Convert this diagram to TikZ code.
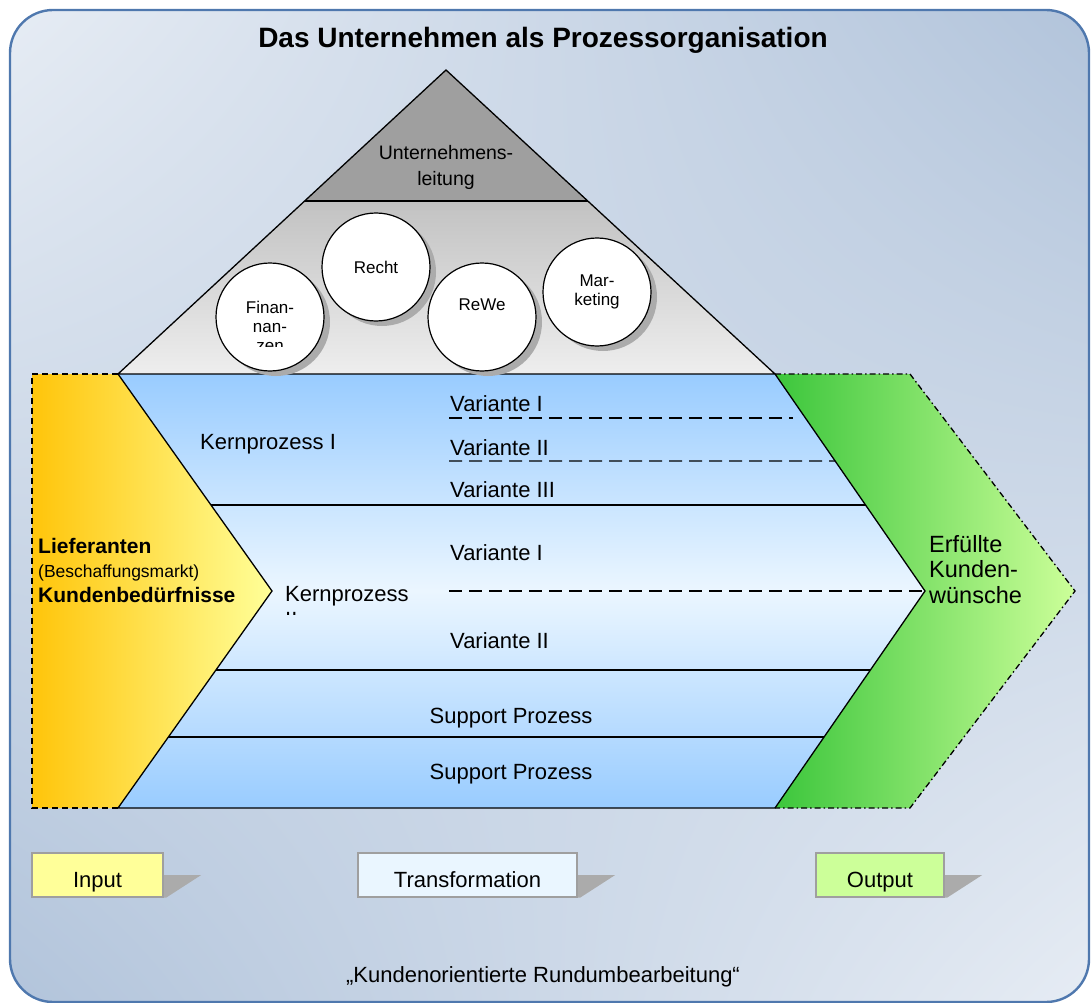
\documentclass[tikz,border=0pt]{standalone}
\usepackage{fontspec}
\setmainfont{Liberation Sans}
\usetikzlibrary{calc, positioning, shadings}

\definecolor{rahmen}{HTML}{4F78AE}
\definecolor{hgHell}{HTML}{E6ECF4}
\definecolor{hgDunkel}{HTML}{B2C4DB}
\definecolor{pyrDunkel}{HTML}{9F9F9F}
\definecolor{pyrGrau}{HTML}{C2C2C2}
\definecolor{pyrHell}{HTML}{EEEEEE}
\definecolor{blauDunkel}{HTML}{99CCFF}
\definecolor{blauHell}{HTML}{EBF6FF}
\definecolor{gelbDunkel}{HTML}{FFC50A}
\definecolor{gelbHell}{HTML}{FFFF99}
\definecolor{gruenDunkel}{HTML}{3CC63C}
\definecolor{gruenHell}{HTML}{CCFF99}
\definecolor{kastenBlau}{HTML}{EAF6FF}
\definecolor{schatten}{HTML}{ABABAB}

\newcommand{\schrift}[2]{\fontsize{#1}{#2}\selectfont}

\begin{document}
\begin{tikzpicture}[x=1pt, y=-1pt,
   every node/.style = {inner sep=0pt},
   txt/.style = {font=\schrift{22}{26}},
   abteilung/.style = {circle, draw, line width=1.2pt, fill=white, minimum size=108pt,
                       align=center, font=\schrift{17}{19}},
   abtschatten/.style = {circle, fill=schatten, minimum size=108pt},
   kasten/.style = {draw=gray!75, line width=1.2pt, minimum height=44pt,
                    text height=24pt, text depth=0pt, font=\schrift{22}{26}},
   trenner/.style = {line width=1.3pt},
   variante/.style = {line width=1.3pt, dash pattern=on 13pt off 7pt}]

   \useasboundingbox (0,0) rectangle (1092,1003);

   % Hintergrund
   \shade[upper left=hgHell, upper right=hgDunkel, lower left=hgDunkel, lower right=hgHell,
          rounded corners=43pt] (10,10) rectangle (1089,1002);
   \draw[rahmen, line width=2.4pt, rounded corners=43pt] (10,10) rectangle (1089,1002);

   \node[font=\bfseries\schrift{28}{32}, anchor=base] (titel) at (543,48)
      {Das Unternehmen als Prozessorganisation};

   % Pyramide
   \coordinate (spitze) at (446,70);
   \coordinate (basisL) at (118,374);
   \coordinate (basisR) at (775,374);
   \coordinate (stufeL) at ($(spitze)!0.431!(basisL)$);
   \coordinate (stufeR) at ($(spitze)!0.431!(basisR)$);

   \fill[pyrDunkel] (spitze) -- (stufeL) -- (stufeR) -- cycle;
   \shade[top color=pyrGrau, bottom color=pyrHell] (stufeL) -- (stufeR) -- (basisR) -- (basisL) -- cycle;

   % Prozesspfeil
   \coordinate (kerbeL) at (272,591);
   \coordinate (kerbeR) at (925,591);
   \coordinate (fussL) at (118,808);
   \coordinate (fussR) at (775,808);
   \coordinate (spitzeR) at (1075,591);

   \shade[top color=blauDunkel, bottom color=blauDunkel, middle color=blauHell]
      (basisL) -- (basisR) -- (kerbeR) -- (fussR) -- (fussL) -- (kerbeL) -- cycle;

   \shade[left color=gelbDunkel, right color=gelbHell]
      (32,374) -- (basisL) -- (kerbeL) -- (fussL) -- (32,808) -- cycle;
   \draw[line width=1.3pt, dash pattern=on 6pt off 4pt] (basisL) -- (32,374) -- (32,808) -- (fussL);

   \shade[left color=gruenDunkel, right color=gruenHell]
      (basisR) -- (910,374) -- (spitzeR) -- (910,808) -- (fussR) -- (kerbeR) -- cycle;
   \draw[line width=1.3pt, dash pattern=on 6pt off 3pt on 1.5pt off 3pt]
      (basisR) -- (910,374) -- (spitzeR) -- (910,808) -- (fussR);

   \draw[line width=1.3pt] (spitze) -- (basisL) -- (basisR) -- cycle;
   \draw[line width=1.3pt] (stufeL) -- (stufeR);
   \draw[line width=1.3pt] (basisL) -- (kerbeL) -- (fussL) -- (fussR) -- (kerbeR) -- (basisR);

   % Baender
   \draw[trenner] ($(basisL)!0.604!(kerbeL)$) -- ($(basisR)!0.604!(kerbeR)$);
   \draw[trenner] ($(kerbeL)!0.364!(fussL)$) -- ($(kerbeR)!0.364!(fussR)$);
   \draw[trenner] ($(kerbeL)!0.673!(fussL)$) -- ($(kerbeR)!0.673!(fussR)$);

   \draw[variante] (449,418) -- (793,418);
   \draw[variante] (449,461) -- ($(basisR)!0.401!(kerbeR)$);
   \draw[variante] (449,591) -- (kerbeR);

   % Abteilungen
   \foreach \px/\py in {270/317, 376/267, 482/317, 597/292}
      \node[abtschatten] at (\px+6,\py+5) {};
   \node[abteilung] (fin) at (270,317) {};
   \node[abteilung] (recht) at (376,267) {Recht};
   \node[abteilung] (rewe) at (482,317) {};
   \node[abteilung] (mark) at (597,292) {Mar-\\keting};
   \node[font=\schrift{17}{19}] (rewetxt) at ($(rewe.center)+(0,-12)$) {ReWe};
   \begin{scope}
      \clip (215,290) rectangle (325,346);
      \node[align=center, font=\schrift{17}{19}, anchor=north] (fintxt) at (270,301) {Finan-\\nan-\\zen};
   \end{scope}

   \node[align=center, font=\schrift{19.5}{26}, anchor=north] (leitung) at (446,145)
      {Unternehmens-\\leitung};

   % Texte im Pfeil
   \node[txt, anchor=base west] (kp1) at (200,449) {Kernprozess I};
   \node[txt, anchor=base west] (v11) at (450,411) {Variante I};
   \node[txt, anchor=base west] (v12) at (450,455) {Variante II};
   \node[txt, anchor=base west] (v13) at (450,497) {Variante III};

   \begin{scope}
      \clip (280,570) rectangle (420,614);
      \node[txt, align=left, anchor=north west] (kp2) at (285,586) {Kernprozess\\II};
   \end{scope}
   \node[txt, anchor=base west] (v21) at (450,560) {Variante I};
   \node[txt, anchor=base west] (v22) at (450,648) {Variante II};

   \node[txt, anchor=base] (sp1) at (511,723) {Support Prozess};
   \node[txt, anchor=base] (sp2) at (511,779) {Support Prozess};

   \node[font=\bfseries\schrift{21}{25}, anchor=base west] (lief) at (38,553) {Lieferanten};
   \node[font=\schrift{17.5}{21}, anchor=base west] (besch) at (38,577) {(Beschaffungsmarkt)};
   \node[font=\bfseries\schrift{21}{25}, anchor=base west] (bedarf) at (38,602) {Kundenbedürfnisse};

   \node[align=left, font=\schrift{23.5}{25.5}, anchor=north west] (erfuellt) at (929,535)
      {Erfüllte\\Kunden-\\wünsche};

   % Legende
   \node[kasten, fill=gelbHell, minimum width=131pt] (input) at (97.5,875) {Input};
   \node[kasten, fill=kastenBlau, minimum width=219pt] (trafo) at (467.5,875) {Transformation};
   \node[kasten, fill=gruenHell, minimum width=128pt] (output) at (880,875) {Output};
   \foreach \k in {input, trafo, output}
      \fill[schatten] ($(\k.east)+(0.6,0)$) -- ++(37,0) -- ($(\k.south east)+(2.6,0)$)
         -- ($(\k.south east)+(0.6,0)$) -- cycle;

   \node[txt, anchor=base] (motto) at (543,982) {„Kundenorientierte Rundumbearbeitung“};
\end{tikzpicture}
\end{document}
